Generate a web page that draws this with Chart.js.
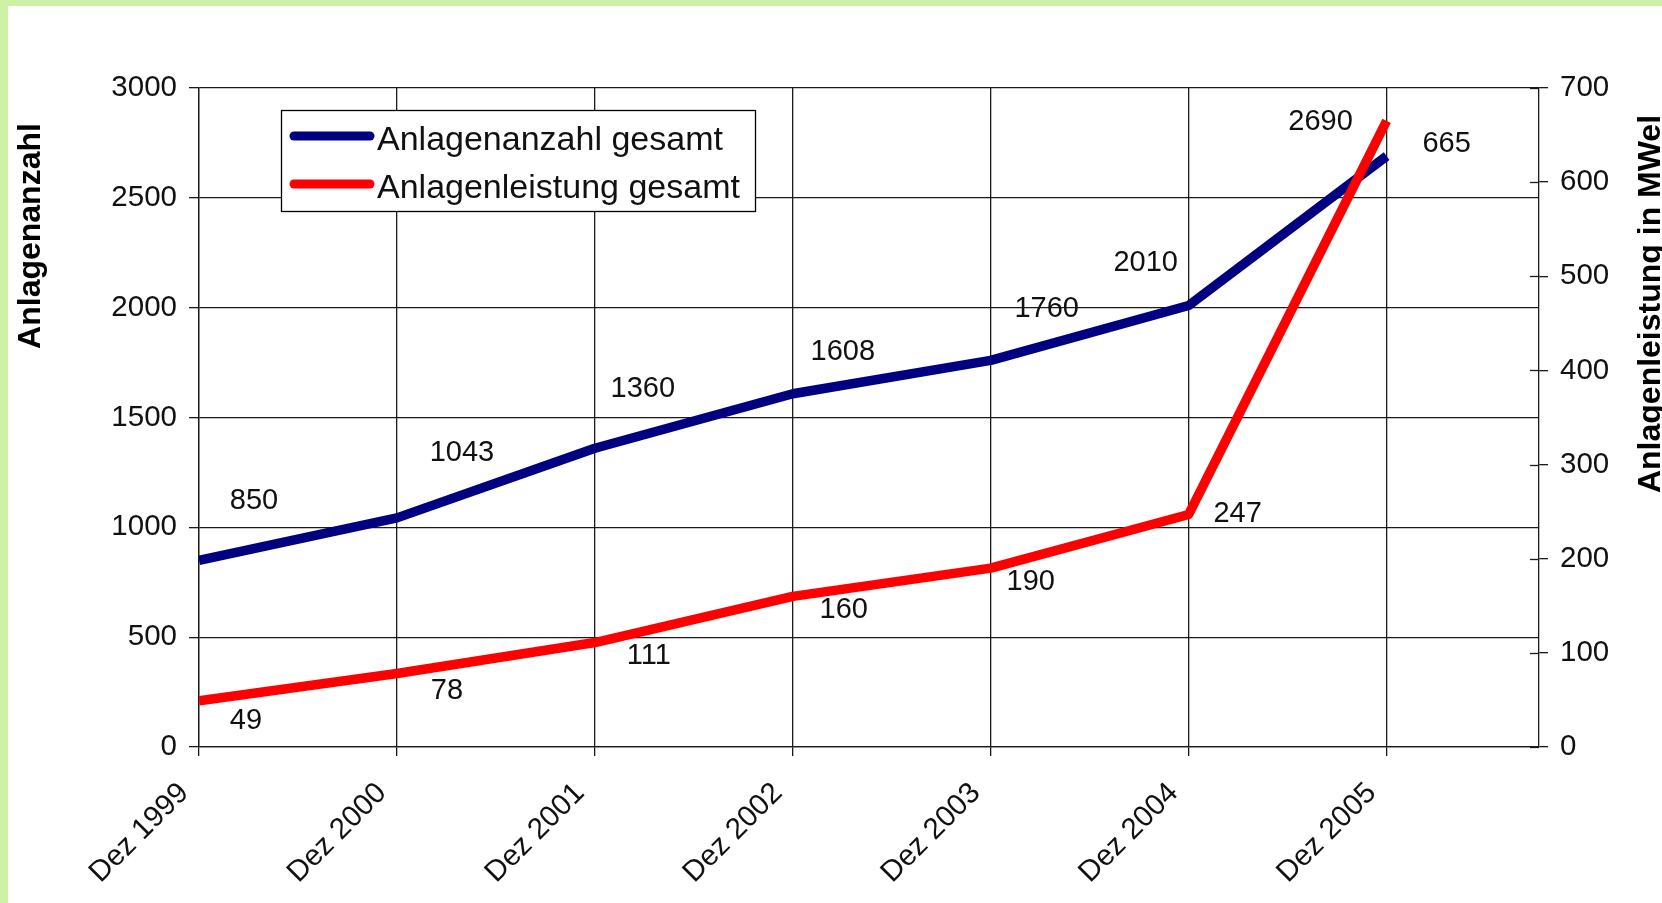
<!DOCTYPE html>
<html>
<head>
<meta charset="utf-8">
<title>Anlagenanzahl und Anlagenleistung</title>
<script src="https://cdn.jsdelivr.net/npm/chart.js@4.4.1/dist/chart.umd.min.js"></script>
<style>
    html, body { margin: 0; padding: 0; background: #cdf1a5; overflow: hidden; }
    #wrap { position: absolute; left: 8px; top: 6px; width: 1654px; height: 897px; background: #fff; }
</style>
</head>
<body>
<div id="wrap"><canvas id="chart"></canvas></div>
<script>
// Data
const categories = ['Dez 1999', 'Dez 2000', 'Dez 2001', 'Dez 2002', 'Dez 2003', 'Dez 2004', 'Dez 2005'];
const anlagenAnzahl = [850, 1043, 1360, 1608, 1760, 2010, 2690];
const anlagenLeistung = [49, 78, 111, 160, 190, 247, 665];
const countTicks = [0, 500, 1000, 1500, 2000, 2500, 3000];
const powerTicks = [0, 100, 200, 300, 400, 500, 600, 700];

// the x range runs a bit past the last category (empty space before the right axis)
const xMax = 6.77;

// where the value labels sit relative to their point (px)
const countLabelOffsets = [[55, -59], [65, -65], [48, -59], [50, -42], [56, -51], [-43, -42], [-66, -34]];
const powerLabelOffsets = [[47, 20], [50, 17], [54, 13], [51, 14], [40, 14], [49, 0], [60, 23]];

const FONT = '"Liberation Sans", Arial, sans-serif';
const INK = '#111';
const GRID = '#1a1a1a';

Chart.defaults.font.family = FONT;
Chart.defaults.color = INK;

// value labels next to the points
const valueLabels = {
    id: 'valueLabels',
    afterDatasetsDraw(chart) {
        const ctx = chart.ctx;
        ctx.save();
        ctx.font = '29px ' + FONT;
        ctx.fillStyle = INK;
        ctx.textAlign = 'center';
        ctx.textBaseline = 'middle';
        chart.data.datasets.forEach((ds, di) => {
            const meta = chart.getDatasetMeta(di);
            const offs = ds.labelOffsets;
            meta.data.forEach((pt, i) => {
                ctx.fillText(String(ds.data[i].y), pt.x + offs[i][0], pt.y + offs[i][1]);
            });
        });
        ctx.restore();
    }
};

// boxed legend inside the plot area
const boxLegend = {
    id: 'boxLegend',
    afterDraw(chart) {
        const ctx = chart.ctx;
        const a = chart.chartArea;
        const x = a.left + 82, y = a.top + 22, w = 474, h = 101;
        ctx.save();
        ctx.fillStyle = '#fff';
        ctx.fillRect(x, y, w, h);
        ctx.strokeStyle = '#000';
        ctx.lineWidth = 1.3;
        ctx.strokeRect(x + 0.5, y + 0.5, w, h);
        ctx.font = '34px ' + FONT;
        ctx.textBaseline = 'middle';
        ctx.textAlign = 'left';
        ctx.lineCap = 'round';
        ctx.lineWidth = 9;
        chart.data.datasets.forEach((ds, i) => {
            const ly = y + 26 + i * 48;
            ctx.strokeStyle = ds.borderColor;
            ctx.beginPath();
            ctx.moveTo(x + 13, ly);
            ctx.lineTo(x + 89, ly);
            ctx.stroke();
            ctx.fillStyle = INK;
            ctx.fillText(ds.label, x + 96, ly + 5);
        });
        ctx.restore();
    }
};

// axis titles (both read bottom to top) and the inner half of the right axis ticks
const axisExtras = {
    id: 'axisExtras',
    afterDraw(chart) {
        const ctx = chart.ctx;
        const y1 = chart.scales.y1;
        ctx.save();
        ctx.strokeStyle = GRID;
        ctx.lineWidth = 1.3;
        powerTicks.forEach(v => {
            const py = Math.round(y1.getPixelForValue(v)) + 0.5;
            ctx.beginPath();
            ctx.moveTo(y1.left - 9, py);
            ctx.lineTo(y1.left, py);
            ctx.stroke();
        });
        ctx.fillStyle = '#000';
        ctx.font = 'bold 32px ' + FONT;
        ctx.textAlign = 'center';
        ctx.textBaseline = 'alphabetic';
        ctx.translate(32, 230);
        ctx.rotate(-Math.PI / 2);
        ctx.fillText('Anlagenanzahl', 0, 0);
        ctx.setTransform(1, 0, 0, 1, 0, 0);
        ctx.translate(1652, 298);
        ctx.rotate(-Math.PI / 2);
        ctx.fillText('Anlagenleistung in MWel', 0, 0);
        ctx.restore();
    }
};

const ctx = document.getElementById('chart').getContext('2d');
new Chart(ctx, {
    type: 'line',
    data: {
        datasets: [
            {
                label: 'Anlagenanzahl gesamt',
                data: anlagenAnzahl.map((v, i) => ({ x: i, y: v })),
                borderColor: '#000080',
                backgroundColor: '#000080',
                borderWidth: 9.5,
                pointRadius: 0,
                tension: 0,
                borderJoinStyle: 'round',
                yAxisID: 'y',
                order: 1,
                labelOffsets: countLabelOffsets
            },
            {
                label: 'Anlagenleistung gesamt',
                data: anlagenLeistung.map((v, i) => ({ x: i, y: v })),
                borderColor: '#ff0000',
                backgroundColor: '#ff0000',
                borderWidth: 9.5,
                pointRadius: 0,
                tension: 0,
                borderJoinStyle: 'round',
                yAxisID: 'y1',
                order: 0,
                labelOffsets: powerLabelOffsets
            }
        ]
    },
    options: {
        responsive: true,
        maintainAspectRatio: false,
        animation: false,
        layout: {
            padding: { top: 82, left: 0, right: 0, bottom: 0 }
        },
        plugins: {
            legend: { display: false },
            tooltip: { enabled: false }
        },
        scales: {
            x: {
                type: 'linear',
                min: 0,
                max: xMax,
                afterBuildTicks: (scale) => {
                    scale.ticks = categories.map((c, i) => ({ value: i }));
                },
                afterFit: (scale) => { scale.height = 156; },
                ticks: {
                    autoSkip: false,
                    minRotation: 45,
                    maxRotation: 45,
                    padding: 20,
                    labelOffset: -15,
                    font: { size: 29.5 },
                    color: INK,
                    callback: (v) => categories[v] || ''
                },
                grid: { color: GRID, lineWidth: 1.3, tickLength: 9 },
                border: { color: GRID, width: 1.3 }
            },
            y: {
                position: 'left',
                min: 0,
                max: 3000,
                afterBuildTicks: (scale) => {
                    scale.ticks = countTicks.map(v => ({ value: v }));
                },
                afterFit: (scale) => { scale.width = 191; },
                ticks: { padding: 12, font: { size: 29.5 }, color: INK, callback: (v) => String(v) },
                grid: { color: GRID, lineWidth: 1.3, tickLength: 10 },
                border: { color: GRID, width: 1.3 }
            },
            y1: {
                position: 'right',
                min: 0,
                max: 700,
                afterBuildTicks: (scale) => {
                    scale.ticks = powerTicks.map(v => ({ value: v }));
                },
                afterFit: (scale) => { scale.width = 123; },
                ticks: { padding: 12, font: { size: 29.5 }, color: INK, callback: (v) => String(v) },
                grid: { drawOnChartArea: false, color: GRID, lineWidth: 1.3, tickLength: 9 },
                border: { color: GRID, width: 1.3 }
            }
        }
    },
    plugins: [valueLabels, boxLegend, axisExtras]
});
</script>
</body>
</html>
